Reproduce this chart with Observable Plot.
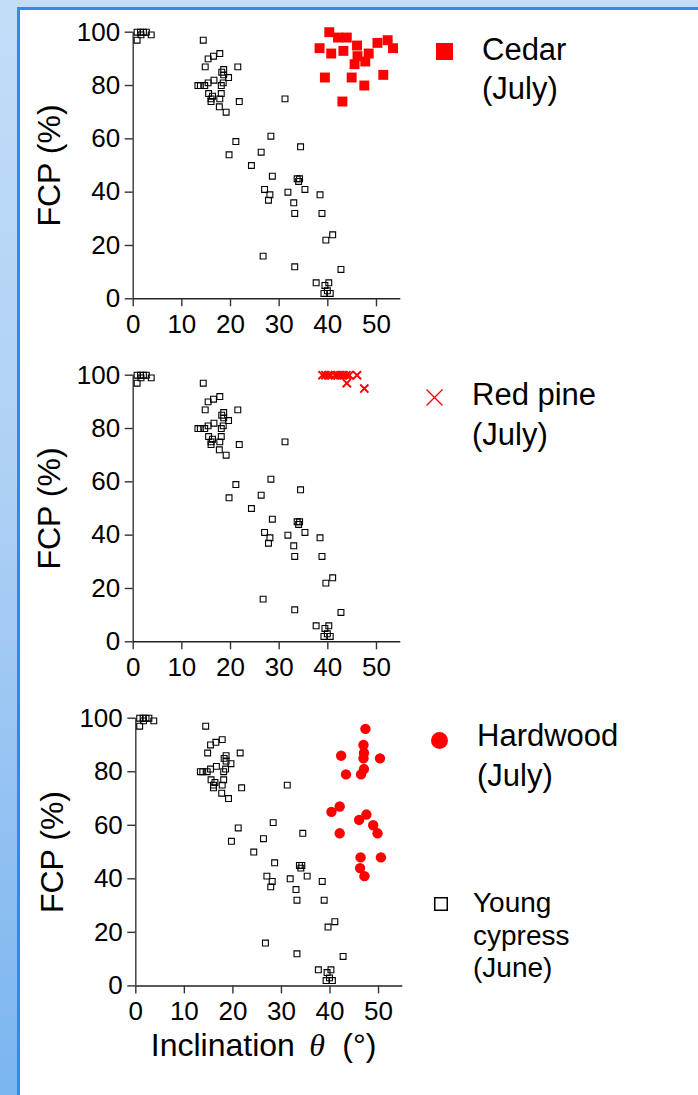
<!DOCTYPE html>
<html><head><meta charset="utf-8">
<script src="https://cdn.jsdelivr.net/npm/d3@7"></script>
<script src="https://cdn.jsdelivr.net/npm/@observablehq/plot@0.6"></script>
<style>
html,body{margin:0;padding:0;}
body{width:698px;height:1095px;position:relative;overflow:hidden;background:linear-gradient(to bottom,#c2ddf8 0%,#aed0f5 45%,#7bb5f0 100%);font-family:"Liberation Sans",Arial,sans-serif;}
#sheet{position:absolute;left:17px;top:7px;right:0;bottom:0;background:#fff;border-left:3px solid #2f8bf0;border-top:3px solid #2f8bf0;}
.panel{position:absolute;left:0;}
.leg{position:absolute;color:#000;white-space:nowrap;}
.mk{position:absolute;overflow:visible;}
</style></head><body>
<div id="sheet"></div>
<script>
const xTicks = [0, 10, 20, 30, 40, 50];
const yTicks = [0, 20, 40, 60, 80, 100];

// Young cypress (June) — same in every panel
const cypressX = [0.8,1.5,2.1,2.7,1.6,3.7,0.8,14.4,17.8,16.5,15.4,14.8,21.5,18.6,18.2,18.6,19.6,16.6,15.4,18.5,18.1,13.3,13.8,14.7,15.5,18.1,16.3,16.0,16.0,17.8,21.8,31.2,17.7,19.1,28.3,21.1,34.4,26.3,19.7,24.3,28.6,33.7,34.2,34.0,35.3,27.0,28.1,27.8,31.8,38.4,33.0,33.2,38.8,41.0,39.6,26.7,33.2,42.7,37.6,40.2,39.4,39.9,39.2,40.5];
const cypressY = [100,100,100,100,99,99,97,97,92,91,90,87,87,86,85,84,83,82,81,81,80,80,80,80,77,77,76,75,74,75,74,75,72,70,61,59,57,55,54,50,46,45,45,44,41,41,39,37,40,39,36,32,32,24,22,16,12,11,6,6,5,3,2,2];

// Cedar (July)
const cedarX = [40.3,42.1,43.9,46.0,50.2,52.3,53.4,38.3,40.7,43.2,46.1,48.4,47.7,45.5,39.4,44.9,51.4,47.5,43.0];
const cedarY = [100,98,98,95,96,97,94,94,92,93,91,92,89,88,83,83,84,80,74];

// Red pine (July)
const pineX = [38.9,39.5,40.1,40.6,41.5,42.0,42.6,43.2,43.8,44.4,46.0,43.9,47.5];
const pineY = [100,100,100,100,100,100,100,100,100,100,100,97,95];

// Hardwood (July)
const hardX = [47.3,46.9,47.0,46.9,50.3,42.3,47.0,43.3,46.4,40.3,42.0,46.0,47.5,48.9,49.8,42.0,46.3,50.5,46.2,47.1];
const hardY = [96,90,87,85,85,86,81,79,79,65,67,62,64,60,57,57,48,48,44,41];

const toRows = (xs, ys) => xs.map((x, i) => ({x, y: ys[i]}));
const cypress = toRows(cypressX, cypressY);
const cedar = toRows(cedarX, cedarY);
const pine = toRows(pineX, pineY);
const hard = toRows(hardX, hardY);

const FONT = '"Liberation Sans", Arial, Helvetica, sans-serif';

function makePanel({top, marginLeft, marginRight, height, marginBottom, redMark, xLabel}) {
  const marks = [
    Plot.ruleY([0], {x1: 0, x2: 55, stroke: "#222", strokeWidth: 1.5}),
    Plot.ruleX([0], {y1: 0, y2: 100, stroke: "#444", strokeWidth: 1.5}),
    Plot.axisX(xTicks, {tickSize: 8, tickPadding: 8, label: null, fontSize: 26, stroke: "#333", strokeWidth: 1.4, fill: "#000"}),
    Plot.axisY(yTicks, {tickSize: 8, tickPadding: 5, label: null, fontSize: 26, stroke: "#333", strokeWidth: 1.4, fill: "#000"}),
    Plot.dot(cypress, {x: "x", y: "y", symbol: "square", r: 3.3, stroke: "#000", strokeWidth: 1.1, fill: "none"}),
    redMark,
    Plot.text(["FCP (%)"], {text: d => d, frameAnchor: "left", textAnchor: "middle", lineAnchor: "middle", rotate: -90, dx: -83, fontSize: 32, fill: "#000"})
  ];
  if (xLabel) {
    marks.push(
      Plot.text(["Inclination"], {text: d => d, frameAnchor: "bottom", textAnchor: "start", lineAnchor: "bottom", dx: -118.5, dy: 70, fontSize: 32, fill: "#000"}),
      Plot.text(["θ"], {text: d => d, frameAnchor: "bottom", textAnchor: "start", lineAnchor: "bottom", dx: 40, dy: 70, fontSize: 32, fontFamily: '"Liberation Serif", "DejaVu Serif", serif', fontStyle: "italic", fill: "#000"}),
      Plot.text(["(°)"], {text: d => d, frameAnchor: "bottom", textAnchor: "start", lineAnchor: "bottom", dx: 73, dy: 70, fontSize: 32, fill: "#000"})
    );
  }
  const svg = Plot.plot({
    width: 420,
    height,
    marginLeft, marginRight, marginTop: 31.7, marginBottom,
    x: {domain: [0, 55]},
    y: {domain: [0, 100]},
    style: {fontFamily: FONT, fontSize: "26px", background: "none", overflow: "visible", color: "#000"},
    marks
  });
  svg.classList.add("panel");
  svg.style.top = top + "px";
  svg.style.left = "0px";
  svg.style.position = "absolute";
  document.body.appendChild(svg);
}

makePanel({
  top: 0, marginLeft: 132.7, marginRight: 19.7, height: 343, marginBottom: 44.7,
  redMark: Plot.dot(cedar, {x: "x", y: "y", symbol: "square", r: 5.6, fill: "#ff0000", stroke: "none"})
});
makePanel({
  top: 343.3, marginLeft: 132.7, marginRight: 19.7, height: 343, marginBottom: 44.7,
  redMark: Plot.dot(pine, {x: "x", y: "y", symbol: "times", r: 3.8, stroke: "#ff0000", strokeWidth: 2})
});
makePanel({
  top: 685.6, marginLeft: 135.3, marginRight: 17.7, height: 390, marginBottom: 90.6,
  redMark: Plot.dot(hard, {x: "x", y: "y", symbol: "circle", r: 5.2, fill: "#ff0000", stroke: "none"}),
  xLabel: true
});

// Legends
const legends = [
  {mk: '<rect width="17" height="17" fill="#ff0000"/>', ml: 435.5, mt: 42.5, w: 17, h: 17, text: "Cedar<br>(July)", tl: 482, tt: 29.5, fs: 31, lh: 39.5},
  {mk: '<line x1="0.5" y1="0.5" x2="16.5" y2="16.5" stroke="#ff0000" stroke-width="1.3"/><line x1="16.5" y1="0.5" x2="0.5" y2="16.5" stroke="#ff0000" stroke-width="1.3"/>', ml: 426, mt: 388.5, w: 17, h: 17, text: "Red pine<br>(July)", tl: 472, tt: 375.2, fs: 31, lh: 39.5},
  {mk: '<circle cx="8.5" cy="8.5" r="8.5" fill="#ff0000"/>', ml: 430.5, mt: 731.5, w: 17, h: 17, text: "Hardwood<br>(July)", tl: 477, tt: 716.2, fs: 31, lh: 39.5},
  {mk: '<rect x="0.75" y="0.75" width="12.5" height="12.5" fill="#fff" stroke="#000" stroke-width="1.5"/>', ml: 434, mt: 897, w: 14, h: 14, text: "Young<br>cypress<br>(June)", tl: 473, tt: 887.3, fs: 28, lh: 32.5}
];
for (const L of legends) {
  const m = document.createElement("div");
  m.innerHTML = `<svg class="mk" style="left:${L.ml}px;top:${L.mt}px" width="${L.w}" height="${L.h}">${L.mk}</svg>`;
  document.body.appendChild(m.firstChild);
  const t = document.createElement("div");
  t.className = "leg";
  t.style.left = L.tl + "px";
  t.style.top = L.tt + "px";
  t.style.fontSize = L.fs + "px";
  t.style.lineHeight = L.lh + "px";
  t.innerHTML = L.text;
  document.body.appendChild(t);
}
</script>
</body></html>
